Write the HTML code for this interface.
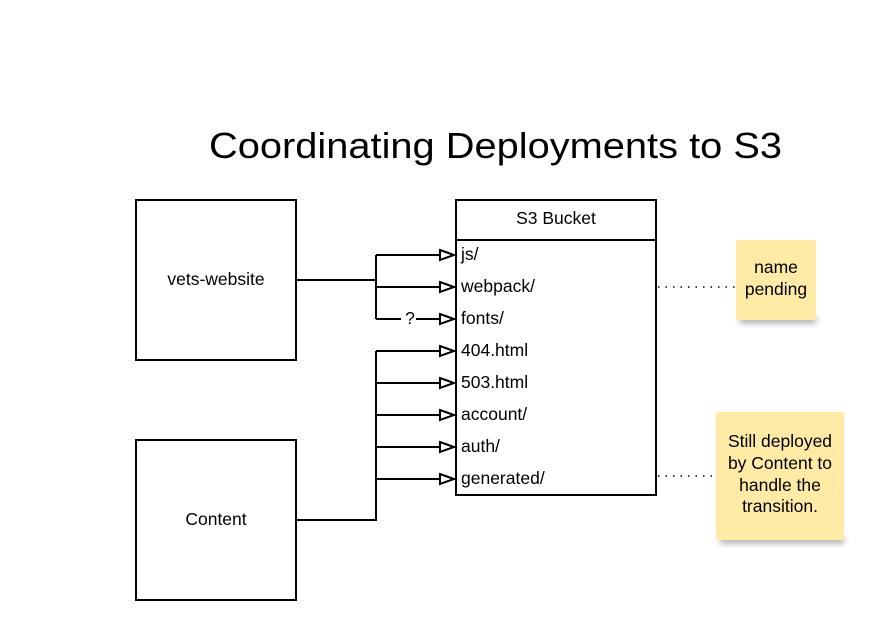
<!DOCTYPE html>
<html><head><style>html,body{margin:0;padding:0;background:#fff}svg{display:block}</style></head>
<body>
<svg width="896" height="640" viewBox="0 0 896 640" xmlns="http://www.w3.org/2000/svg" font-family="Liberation Sans, sans-serif">
<defs>
<filter id="sh" x="-20%" y="-20%" width="140%" height="160%"><feGaussianBlur stdDeviation="3"/></filter>
</defs>
<text x="209" y="158" font-size="36" textLength="573" lengthAdjust="spacingAndGlyphs">Coordinating Deployments to S3</text>
<g fill="none" stroke="#000" stroke-width="2">
<rect x="136" y="200" width="160" height="160"/>
<rect x="136" y="440" width="160" height="160"/>
<rect x="456" y="200" width="200" height="295"/>
<line x1="456" y1="240" x2="656" y2="240"/>
<path d="M296 280H376M376 255V319M376 255H440M376 287H440M376 319H401M416 319H440"/>
<path d="M296 520H376V351M376 351H440M376 383H440M376 415H440M376 447H440M376 479H440"/>
</g>
<g fill="#fff" stroke="#000" stroke-width="2">
<path d="M440 250L454 255L440 260Z"/><path d="M440 282L454 287L440 292Z"/><path d="M440 314L454 319L440 324Z"/>
<path d="M440 346L454 351L440 356Z"/><path d="M440 378L454 383L440 388Z"/><path d="M440 410L454 415L440 420Z"/>
<path d="M440 442L454 447L440 452Z"/><path d="M440 474L454 479L440 484Z"/>
</g>
<g font-size="17.5">
<text x="216" y="285" text-anchor="middle">vets-website</text>
<text x="216" y="525" text-anchor="middle">Content</text>
<text x="556" y="224" text-anchor="middle">S3 Bucket</text>
<text x="410" y="324" text-anchor="middle">?</text>
<text x="461" y="260">js/</text>
<text x="461" y="292">webpack/</text>
<text x="461" y="324">fonts/</text>
<text x="461" y="356">404.html</text>
<text x="461" y="388">503.html</text>
<text x="461" y="420">account/</text>
<text x="461" y="452">auth/</text>
<text x="461" y="484">generated/</text>
</g>
<g stroke="#000" stroke-width="1.5" stroke-dasharray="1.5,6">
<line x1="658" y1="287" x2="736" y2="287"/>
<line x1="658" y1="476" x2="716" y2="476"/>
</g>
<rect x="740" y="316" width="76" height="8" fill="#999" filter="url(#sh)" opacity="0.7"/>
<rect x="720" y="536" width="124" height="8" fill="#999" filter="url(#sh)" opacity="0.7"/>
<rect x="736" y="240" width="80" height="80" fill="#ffeaa6"/>
<rect x="716" y="412" width="128" height="128" fill="#ffeaa6"/>
<g font-size="17.5" text-anchor="middle">
<text x="776" y="273">name</text>
<text x="776" y="295">pending</text>
<text x="780" y="447">Still deployed</text>
<text x="780" y="469">by Content to</text>
<text x="780" y="491">handle the</text>
<text x="780" y="512">transition.</text>
</g>
</svg>
</body></html>
